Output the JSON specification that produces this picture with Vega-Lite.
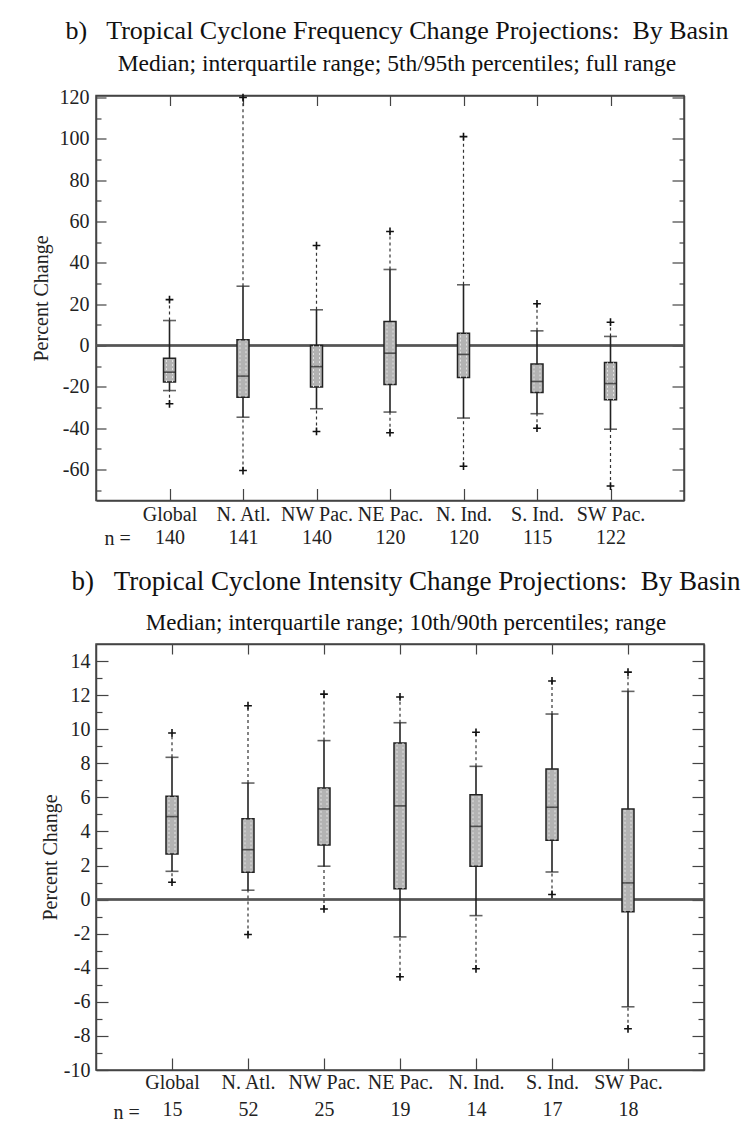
{
  "$schema": "https://vega.github.io/schema/vega-lite/v6.json",
  "background": "white",
  "padding": {"left": 30, "top": 16.5, "right": 0, "bottom": 0},
  "spacing": 17.5,
  "config": {
    "font": "Liberation Serif",
    "view": {"stroke": "#444", "strokeWidth": 1.5},
    "title": {"font": "Liberation Serif", "fontWeight": "normal", "color": "#111", "subtitleFont": "Liberation Serif", "subtitleColor": "#111", "anchor": "middle"},
    "axis": {"labelFont": "Liberation Serif", "titleFont": "Liberation Serif", "labelColor": "#222", "titleColor": "#222", "titleFontWeight": "normal", "domainColor": "#444", "tickColor": "#444", "domainWidth": 1.5, "tickWidth": 1.2, "grid": false, "labelAngle": 0}
  },
  "datasets": {
    "freq": [
      {"basin": "Global", "n": 140, "min": -28.2, "p_lo": -21.8, "q1": -17.7, "med": -12.9, "q3": -6.1, "p_hi": 12.1, "max": 22.2},
      {"basin": "N. Atl.", "n": 141, "min": -60.5, "p_lo": -34.7, "q1": -25.0, "med": -14.8, "q3": 2.8, "p_hi": 28.7, "max": 120.0},
      {"basin": "NW Pac.", "n": 140, "min": -41.6, "p_lo": -30.6, "q1": -20.1, "med": -10.2, "q3": 0.0, "p_hi": 17.3, "max": 48.4},
      {"basin": "NE Pac.", "n": 120, "min": -42.2, "p_lo": -32.2, "q1": -18.9, "med": -3.7, "q3": 11.6, "p_hi": 36.8, "max": 55.2},
      {"basin": "N. Ind.", "n": 120, "min": -58.4, "p_lo": -35.1, "q1": -15.5, "med": -4.3, "q3": 6.0, "p_hi": 29.4, "max": 101.1},
      {"basin": "S. Ind.", "n": 115, "min": -40.0, "p_lo": -33.0, "q1": -22.7, "med": -17.4, "q3": -9.0, "p_hi": 7.1, "max": 20.2},
      {"basin": "SW Pac.", "n": 122, "min": -68.0, "p_lo": -40.5, "q1": -26.3, "med": -18.4, "q3": -8.2, "p_hi": 4.4, "max": 11.3}
    ],
    "inten": [
      {"basin": "Global", "n": 15, "min": 1.02, "p_lo": 1.66, "q1": 2.68, "med": 4.87, "q3": 6.06, "p_hi": 8.35, "max": 9.78},
      {"basin": "N. Atl.", "n": 52, "min": -2.05, "p_lo": 0.55, "q1": 1.6, "med": 2.93, "q3": 4.75, "p_hi": 6.84, "max": 11.38},
      {"basin": "NW Pac.", "n": 25, "min": -0.55, "p_lo": 1.96, "q1": 3.21, "med": 5.32, "q3": 6.55, "p_hi": 9.33, "max": 12.06},
      {"basin": "NE Pac.", "n": 19, "min": -4.53, "p_lo": -2.19, "q1": 0.63, "med": 5.5, "q3": 9.19, "p_hi": 10.38, "max": 11.89},
      {"basin": "N. Ind.", "n": 14, "min": -4.06, "p_lo": -0.94, "q1": 1.96, "med": 4.3, "q3": 6.16, "p_hi": 7.82, "max": 9.82},
      {"basin": "S. Ind.", "n": 17, "min": 0.3, "p_lo": 1.62, "q1": 3.48, "med": 5.42, "q3": 7.67, "p_hi": 10.89, "max": 12.83},
      {"basin": "SW Pac.", "n": 18, "min": -7.58, "p_lo": -6.29, "q1": -0.72, "med": 0.98, "q3": 5.32, "p_hi": 12.22, "max": 13.35}
    ]
  },
  "vconcat": [
    {
      "width": 588,
      "height": 405,
      "title": {"text": "b)\u00a0\u00a0 Tropical Cyclone Frequency Change Projections:\u00a0 By Basin", "subtitle": "Median; interquartile range; 5th/95th percentiles; full range", "fontSize": 26, "subtitleFontSize": 23.5, "subtitlePadding": 8, "offset": 12, "dx": 7},
      "data": {"name": "freq"},
      "transform": [{"calculate": "datum.basin + '|' + datum.n", "as": "key"}],
      "resolve": {"axis": {"x": "independent", "y": "independent"}},
      "layer": [
        {"mark": {"type": "rule", "color": "#555", "strokeWidth": 1.5}, "encoding": {"y": {"datum": 0, "type": "quantitative", "scale": {"domain": [-75, 121], "nice": false, "zero": false}, "axis": null}}},
        {"mark": {"type": "rule", "color": "#333", "strokeWidth": 1.2, "strokeDash": [3, 3]},
         "encoding": {"x": {"field": "key", "type": "nominal", "sort": null, "scale": {"type": "point", "padding": 1}, "axis": null},
                      "y": {"field": "p_hi", "type": "quantitative", "scale": {"domain": [-75, 121], "nice": false, "zero": false}, "axis": null}, "y2": {"field": "max"}}},
        {"mark": {"type": "rule", "color": "#333", "strokeWidth": 1.2, "strokeDash": [3, 3]},
         "encoding": {"x": {"field": "key", "type": "nominal", "sort": null, "scale": {"type": "point", "padding": 1}, "axis": null},
                      "y": {"field": "min", "type": "quantitative", "scale": {"domain": [-75, 121], "nice": false, "zero": false}, "axis": null}, "y2": {"field": "p_lo"}}},
        {"mark": {"type": "rule", "color": "#222", "strokeWidth": 1.6},
         "encoding": {"x": {"field": "key", "type": "nominal", "sort": null, "scale": {"type": "point", "padding": 1},
                            "axis": {"labelExpr": "split(datum.label, '|')", "labelFontSize": 20, "labelLineHeight": 23, "labelPadding": 16, "tickSize": -12, "title": "n =", "titleFontSize": 20, "titleAnchor": "start", "titleAlign": "left", "titleX": 8, "titleY": 44, "titleBaseline": "alphabetic"}},
                      "y": {"field": "p_lo", "type": "quantitative", "scale": {"domain": [-75, 121], "nice": false, "zero": false},
                            "axis": {"values": [-70, -60, -50, -40, -30, -20, -10, 0, 10, 20, 30, 40, 50, 60, 70, 80, 90, 100, 110, 120], "labelExpr": "datum.value % 20 == 0 ? '' + datum.value : ''", "tickSize": {"condition": {"test": "datum.value % 20 == 0", "value": -10}, "value": -5}, "labelFontSize": 20, "labelPadding": 17, "title": "Percent Change", "titleFontSize": 20, "titlePadding": 8}},
                      "y2": {"field": "p_hi"}}},
        {"mark": {"type": "tick", "color": "#222", "size": 13, "thickness": 1.6, "orient": "horizontal"},
         "encoding": {"x": {"field": "key", "type": "nominal", "sort": null, "scale": {"type": "point", "padding": 1}, "axis": null},
                      "y": {"field": "p_hi", "type": "quantitative", "scale": {"domain": [-75, 121], "nice": false, "zero": false}, "axis": null}}},
        {"mark": {"type": "tick", "color": "#222", "size": 13, "thickness": 1.6, "orient": "horizontal"},
         "encoding": {"x": {"field": "key", "type": "nominal", "sort": null, "scale": {"type": "point", "padding": 1}, "axis": null},
                      "y": {"field": "p_lo", "type": "quantitative", "scale": {"domain": [-75, 121], "nice": false, "zero": false}, "axis": null}}},
        {"mark": {"type": "bar", "width": 12, "fill": "#b3b3b3", "stroke": "#222", "strokeWidth": 1.5},
         "encoding": {"x": {"field": "key", "type": "nominal", "sort": null, "scale": {"type": "point", "padding": 1},
                            "axis": {"orient": "top", "labels": false, "tickSize": -10, "title": null}},
                      "y": {"field": "q1", "type": "quantitative", "scale": {"domain": [-75, 121], "nice": false, "zero": false},
                            "axis": {"orient": "right", "values": [-70, -60, -50, -40, -30, -20, -10, 0, 10, 20, 30, 40, 50, 60, 70, 80, 90, 100, 110, 120], "labels": false, "tickSize": {"condition": {"test": "datum.value % 20 == 0", "value": -12}, "value": -5}, "title": null}},
                      "y2": {"field": "q3"}}},
        {"mark": {"type": "rule", "color": "#e4e4e4", "strokeWidth": 1, "strokeDash": [2, 2], "xOffset": -3},
         "encoding": {"x": {"field": "key", "type": "nominal", "sort": null, "scale": {"type": "point", "padding": 1}, "axis": null},
                      "y": {"field": "q1", "type": "quantitative", "scale": {"domain": [-75, 121], "nice": false, "zero": false}, "axis": null}, "y2": {"field": "q3"}}},
        {"mark": {"type": "rule", "color": "#e4e4e4", "strokeWidth": 1, "strokeDash": [2, 2], "xOffset": 3},
         "encoding": {"x": {"field": "key", "type": "nominal", "sort": null, "scale": {"type": "point", "padding": 1}, "axis": null},
                      "y": {"field": "q1", "type": "quantitative", "scale": {"domain": [-75, 121], "nice": false, "zero": false}, "axis": null}, "y2": {"field": "q3"}}},
        {"mark": {"type": "tick", "color": "#222", "size": 12, "thickness": 1.6, "orient": "horizontal"},
         "encoding": {"x": {"field": "key", "type": "nominal", "sort": null, "scale": {"type": "point", "padding": 1}, "axis": null},
                      "y": {"field": "med", "type": "quantitative", "scale": {"domain": [-75, 121], "nice": false, "zero": false}, "axis": null}}},
        {"mark": {"type": "point", "shape": "M-1,0H1M0,-1V1", "size": 60, "filled": false, "stroke": "#111", "strokeWidth": 1.6, "opacity": 1},
         "encoding": {"x": {"field": "key", "type": "nominal", "sort": null, "scale": {"type": "point", "padding": 1}, "axis": null},
                      "y": {"field": "max", "type": "quantitative", "scale": {"domain": [-75, 121], "nice": false, "zero": false}, "axis": null}}},
        {"mark": {"type": "point", "shape": "M-1,0H1M0,-1V1", "size": 60, "filled": false, "stroke": "#111", "strokeWidth": 1.6, "opacity": 1},
         "encoding": {"x": {"field": "key", "type": "nominal", "sort": null, "scale": {"type": "point", "padding": 1}, "axis": null},
                      "y": {"field": "min", "type": "quantitative", "scale": {"domain": [-75, 121], "nice": false, "zero": false}, "axis": null}}}
      ]
    },
    {
      "width": 608,
      "height": 426,
      "title": {"text": "b)\u00a0\u00a0 Tropical Cyclone Intensity Change Projections:\u00a0 By Basin", "subtitle": "Median; interquartile range; 10th/90th percentiles; range", "fontSize": 27, "subtitleFontSize": 23, "subtitlePadding": 16, "offset": 7, "dx": 6},
      "data": {"name": "inten"},
      "transform": [{"calculate": "datum.basin + '|' + datum.n", "as": "key"}],
      "resolve": {"axis": {"x": "independent", "y": "independent"}},
      "layer": [
        {"mark": {"type": "rule", "color": "#555", "strokeWidth": 1.5}, "encoding": {"y": {"datum": 0, "type": "quantitative", "scale": {"domain": [-10, 15], "nice": false, "zero": false}, "axis": null}}},
        {"mark": {"type": "rule", "color": "#333", "strokeWidth": 1.2, "strokeDash": [3, 3]},
         "encoding": {"x": {"field": "key", "type": "nominal", "sort": null, "scale": {"type": "point", "padding": 1}, "axis": null},
                      "y": {"field": "p_hi", "type": "quantitative", "scale": {"domain": [-10, 15], "nice": false, "zero": false}, "axis": null}, "y2": {"field": "max"}}},
        {"mark": {"type": "rule", "color": "#333", "strokeWidth": 1.2, "strokeDash": [3, 3]},
         "encoding": {"x": {"field": "key", "type": "nominal", "sort": null, "scale": {"type": "point", "padding": 1}, "axis": null},
                      "y": {"field": "min", "type": "quantitative", "scale": {"domain": [-10, 15], "nice": false, "zero": false}, "axis": null}, "y2": {"field": "p_lo"}}},
        {"mark": {"type": "rule", "color": "#222", "strokeWidth": 1.6},
         "encoding": {"x": {"field": "key", "type": "nominal", "sort": null, "scale": {"type": "point", "padding": 1},
                            "axis": {"labelExpr": "split(datum.label, '|')", "labelFontSize": 20, "labelLineHeight": 27, "labelPadding": 14, "tickSize": -12, "title": "n =", "titleFontSize": 20, "titleAnchor": "start", "titleAlign": "left", "titleX": 17, "titleY": 48, "titleBaseline": "alphabetic"}},
                      "y": {"field": "p_lo", "type": "quantitative", "scale": {"domain": [-10, 15], "nice": false, "zero": false},
                            "axis": {"values": [-10, -9, -8, -7, -6, -5, -4, -3, -2, -1, 0, 1, 2, 3, 4, 5, 6, 7, 8, 9, 10, 11, 12, 13, 14], "labelExpr": "datum.value % 2 == 0 ? '' + datum.value : ''", "tickSize": {"condition": {"test": "datum.value % 2 == 0", "value": -12}, "value": -6}, "labelFontSize": 20, "labelPadding": 18, "title": "Percent Change", "titleFontSize": 20, "titlePadding": 3}},
                      "y2": {"field": "p_hi"}}},
        {"mark": {"type": "tick", "color": "#222", "size": 13, "thickness": 1.6, "orient": "horizontal"},
         "encoding": {"x": {"field": "key", "type": "nominal", "sort": null, "scale": {"type": "point", "padding": 1}, "axis": null},
                      "y": {"field": "p_hi", "type": "quantitative", "scale": {"domain": [-10, 15], "nice": false, "zero": false}, "axis": null}}},
        {"mark": {"type": "tick", "color": "#222", "size": 13, "thickness": 1.6, "orient": "horizontal"},
         "encoding": {"x": {"field": "key", "type": "nominal", "sort": null, "scale": {"type": "point", "padding": 1}, "axis": null},
                      "y": {"field": "p_lo", "type": "quantitative", "scale": {"domain": [-10, 15], "nice": false, "zero": false}, "axis": null}}},
        {"mark": {"type": "bar", "width": 12, "fill": "#b3b3b3", "stroke": "#222", "strokeWidth": 1.5},
         "encoding": {"x": {"field": "key", "type": "nominal", "sort": null, "scale": {"type": "point", "padding": 1},
                            "axis": {"orient": "top", "labels": false, "tickSize": -10, "title": null}},
                      "y": {"field": "q1", "type": "quantitative", "scale": {"domain": [-10, 15], "nice": false, "zero": false},
                            "axis": {"orient": "right", "values": [-10, -9, -8, -7, -6, -5, -4, -3, -2, -1, 0, 1, 2, 3, 4, 5, 6, 7, 8, 9, 10, 11, 12, 13, 14], "labels": false, "tickSize": {"condition": {"test": "datum.value % 2 == 0", "value": -12}, "value": -6}, "title": null}},
                      "y2": {"field": "q3"}}},
        {"mark": {"type": "rule", "color": "#e4e4e4", "strokeWidth": 1, "strokeDash": [2, 2], "xOffset": -3},
         "encoding": {"x": {"field": "key", "type": "nominal", "sort": null, "scale": {"type": "point", "padding": 1}, "axis": null},
                      "y": {"field": "q1", "type": "quantitative", "scale": {"domain": [-10, 15], "nice": false, "zero": false}, "axis": null}, "y2": {"field": "q3"}}},
        {"mark": {"type": "rule", "color": "#e4e4e4", "strokeWidth": 1, "strokeDash": [2, 2], "xOffset": 3},
         "encoding": {"x": {"field": "key", "type": "nominal", "sort": null, "scale": {"type": "point", "padding": 1}, "axis": null},
                      "y": {"field": "q1", "type": "quantitative", "scale": {"domain": [-10, 15], "nice": false, "zero": false}, "axis": null}, "y2": {"field": "q3"}}},
        {"mark": {"type": "tick", "color": "#222", "size": 12, "thickness": 1.6, "orient": "horizontal"},
         "encoding": {"x": {"field": "key", "type": "nominal", "sort": null, "scale": {"type": "point", "padding": 1}, "axis": null},
                      "y": {"field": "med", "type": "quantitative", "scale": {"domain": [-10, 15], "nice": false, "zero": false}, "axis": null}}},
        {"mark": {"type": "point", "shape": "M-1,0H1M0,-1V1", "size": 60, "filled": false, "stroke": "#111", "strokeWidth": 1.6, "opacity": 1},
         "encoding": {"x": {"field": "key", "type": "nominal", "sort": null, "scale": {"type": "point", "padding": 1}, "axis": null},
                      "y": {"field": "max", "type": "quantitative", "scale": {"domain": [-10, 15], "nice": false, "zero": false}, "axis": null}}},
        {"mark": {"type": "point", "shape": "M-1,0H1M0,-1V1", "size": 60, "filled": false, "stroke": "#111", "strokeWidth": 1.6, "opacity": 1},
         "encoding": {"x": {"field": "key", "type": "nominal", "sort": null, "scale": {"type": "point", "padding": 1}, "axis": null},
                      "y": {"field": "min", "type": "quantitative", "scale": {"domain": [-10, 15], "nice": false, "zero": false}, "axis": null}}}
      ]
    }
  ]
}
